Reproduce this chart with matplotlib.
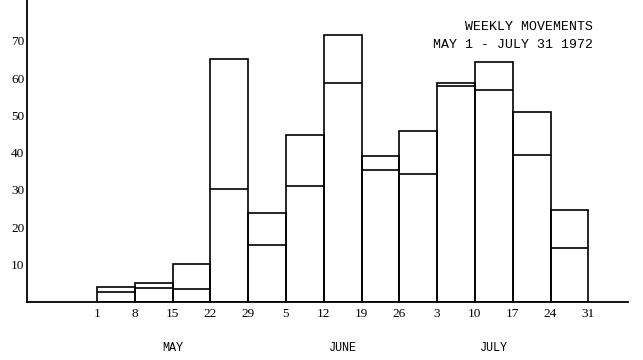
import matplotlib
matplotlib.use("Agg")
import matplotlib.pyplot as plt
import numpy as np

tick_labels = ["1", "8", "15", "22", "29", "5", "12", "19", "26", "3", "10", "17", "24", "31"]
totals = [3.8, 4.9, 10.1, 65.1, 23.9, 44.8, 71.5, 39.1, 45.9, 58.8, 64.4, 50.8, 24.6]
inner = [2.6, 3.7, 3.4, 30.3, 15.3, 31.1, 58.8, 35.2, 34.3, 57.9, 56.7, 39.4, 14.5]
months = ["MAY", "JUNE", "JULY"]
month_pos = [2.0, 6.5, 10.5]
yticks = [10, 20, 30, 40, 50, 60, 70]
title_lines = ["WEEKLY MOVEMENTS", "MAY 1 - JULY 31 1972"]

fig = plt.figure(figsize=(6.43, 3.6), dpi=100)
ax = fig.add_axes([27/643, (360-301.5)/360, (628-27)/643, 301.5/360])

x = np.arange(len(totals))
ax.bar(x, totals, width=1.0, align="edge", fill=False, edgecolor="black", linewidth=1.2)
ax.hlines(inner, x, x + 1, colors="black", linewidth=1.2)

ax.set_xlim(-1.85, 14.05)
ax.set_ylim(0, 81)
ax.spines["top"].set_visible(False)
ax.spines["right"].set_visible(False)
ax.spines["left"].set_linewidth(1.3)
ax.spines["bottom"].set_linewidth(1.3)

ax.set_xticks(np.arange(len(tick_labels)))
ax.set_xticklabels(tick_labels, fontfamily="Liberation Serif", fontsize=9.5)
ax.set_yticks(yticks)
ax.set_yticklabels([str(v) for v in yticks], fontfamily="Liberation Serif", fontsize=9.5)
ax.tick_params(axis="both", length=0, pad=2)
ax.tick_params(axis="x", pad=5)

for m, p in zip(months, month_pos):
    ax.text(p, -0.155, m, transform=ax.get_xaxis_transform(), ha="center", va="center",
            fontfamily="Liberation Mono", fontsize=8.5)

ax.text(593/643, 1 - 27/360, title_lines[0], transform=fig.transFigure, ha="right", va="center",
        fontfamily="Liberation Mono", fontsize=9.5)
ax.text(593/643, 1 - 45/360, title_lines[1], transform=fig.transFigure, ha="right", va="center",
        fontfamily="Liberation Mono", fontsize=9.5)

fig.savefig("out.png", dpi=100)
